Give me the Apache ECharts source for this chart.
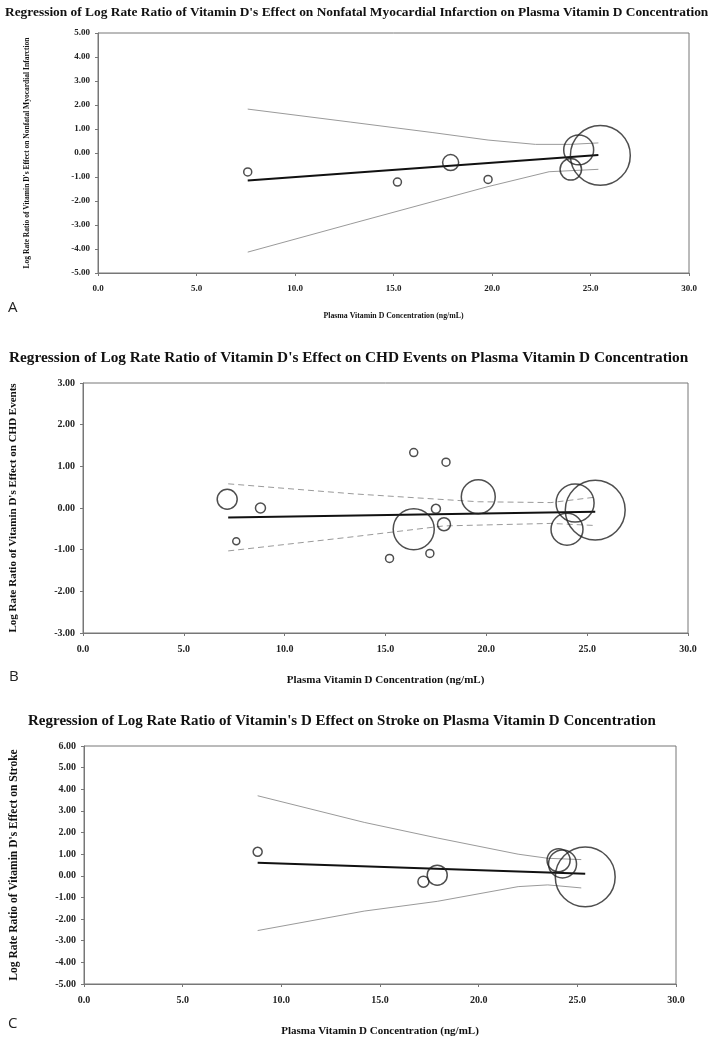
<!DOCTYPE html>
<html>
<head>
<meta charset="utf-8">
<script src="https://cdn.jsdelivr.net/npm/echarts@6/dist/echarts.min.js"></script>
<style>
  html, body { margin: 0; padding: 0; background: #fff; }
  #chart { width: 713px; height: 1038px; }
</style>
</head>
<body>
<div id="chart"></div>
<script>
// panel A - nonfatal MI
const aX = [7.6, 15.2, 17.9, 19.8, 24.0, 24.4, 25.5]
const aY = [-0.79, -1.21, -0.40, -1.10, -0.68, 0.13, -0.10]
const aW = [1, 1, 4, 1, 7.2, 14, 56]
const aFit = [[7.6, -1.15], [25.4, -0.08]]
const aUpper = [[7.6, 1.83], [12.8, 1.29], [17.0, 0.85], [19.8, 0.54], [22.2, 0.36], [24.0, 0.36], [25.4, 0.42]]
const aLower = [[7.6, -4.13], [12.8, -2.96], [19.8, -1.40], [22.9, -0.78], [25.4, -0.68]]

// panel B - CHD events
const bX = [7.15, 8.8, 7.6, 16.4, 18.0, 19.6, 17.5, 17.9, 16.4, 17.2, 15.2, 24.4, 24.0, 25.4]
const bY = [0.21, 0.0, -0.80, 1.33, 1.10, 0.27, -0.02, -0.39, -0.51, -1.09, -1.21, 0.12, -0.51, -0.05]
const bW = [6.25, 1.56, 0.77, 1, 1, 18, 1.27, 2.64, 26.3, 1, 1, 22.6, 16, 56]
const bFit = [[7.2, -0.23], [25.4, -0.09]]
const bUpper = [[7.2, 0.58], [13.4, 0.34], [19.6, 0.15], [23.2, 0.13], [25.4, 0.26]]
const bLower = [[7.2, -1.03], [13.4, -0.69], [17.9, -0.43], [23.2, -0.37], [25.4, -0.42]]

// panel C - stroke
const cX = [8.8, 17.2, 17.9, 24.05, 24.25, 25.4]
const cY = [1.11, -0.27, 0.03, 0.72, 0.55, -0.05]
const cW = [1.27, 1.9, 6.25, 8.3, 12.25, 56]
const cFit = [[8.8, 0.6], [25.4, 0.1]]
const cUpper = [[8.8, 3.7], [14.2, 2.47], [17.9, 1.75], [22.0, 1.0], [23.5, 0.81], [25.2, 0.75]]
const cLower = [[8.8, -2.53], [14.2, -1.63], [17.9, -1.18], [22.0, -0.5], [23.5, -0.42], [25.2, -0.56]]

const xTicks = [0, 5, 10, 15, 20, 25, 30]

const serif = 'Liberation Serif'
const zip = (xs, ys, ws) => xs.map((x, i) => [x, ys[i], ws[i]])

function xAxisOf(idx, fs, nameFs, gap) {
  return {
    gridIndex: idx,
    type: 'value',
    min: xTicks[0],
    max: xTicks[xTicks.length - 1],
    interval: 5,
    name: 'Plasma Vitamin D Concentration (ng/mL)',
    nameLocation: 'middle',
    nameGap: gap,
    nameTextStyle: { fontFamily: serif, fontWeight: 'bold', fontSize: nameFs, color: '#111' },
    axisLine: { onZero: false, lineStyle: { color: '#777', width: 1 } },
    axisTick: { show: true, length: 3, lineStyle: { color: '#777' } },
    splitLine: { show: false },
    axisLabel: {
      fontFamily: serif, fontWeight: 'bold', fontSize: fs, color: '#222', margin: 11,
      formatter: v => v.toFixed(1)
    }
  }
}

function yAxisOf(idx, min, max, name, fs, nameFs, gap) {
  return {
    gridIndex: idx,
    type: 'value',
    min: min,
    max: max,
    interval: 1,
    name: name,
    nameLocation: 'middle',
    nameGap: gap,
    nameTextStyle: { fontFamily: serif, fontWeight: 'bold', fontSize: nameFs, color: '#111' },
    axisLine: { show: true, onZero: false, lineStyle: { color: '#777', width: 1 } },
    axisTick: { show: true, length: 3, lineStyle: { color: '#777' } },
    splitLine: { show: false },
    axisLabel: {
      fontFamily: serif, fontWeight: 'bold', fontSize: fs, color: '#222', margin: 8,
      formatter: v => v.toFixed(2)
    }
  }
}

function bubbles(idx, data) {
  return {
    type: 'scatter',
    xAxisIndex: idx,
    yAxisIndex: idx,
    data: data,
    symbol: 'circle',
    symbolSize: d => 8 * Math.sqrt(d[2]),
    itemStyle: { color: 'rgba(0,0,0,0)', borderColor: '#222', borderWidth: 1.5 },
    z: 5,
    silent: true
  }
}

function line(idx, data, color, width, type) {
  return {
    type: 'line',
    xAxisIndex: idx,
    yAxisIndex: idx,
    data: data,
    symbol: 'none',
    lineStyle: { color: color, width: width, type: type || 'solid' },
    z: 3,
    silent: true
  }
}

const chart = echarts.init(document.getElementById('chart'))
chart.setOption({
  animation: false,
  backgroundColor: '#fff',
  title: [
    {
      text: "Regression of Log Rate Ratio of Vitamin D's Effect on Nonfatal Myocardial Infarction on Plasma Vitamin D Concentration",
      left: 0, top: 1,
      textStyle: { fontFamily: serif, fontWeight: 'bold', fontSize: 13.4, color: '#111' }
    },
    {
      text: "Regression of Log Rate Ratio of Vitamin D's Effect on CHD Events on Plasma Vitamin D Concentration",
      left: 4, top: 346,
      textStyle: { fontFamily: serif, fontWeight: 'bold', fontSize: 15.3, color: '#111' }
    },
    {
      text: "Regression of Log Rate Ratio of Vitamin's D Effect on Stroke on Plasma Vitamin D Concentration",
      left: 23, top: 709,
      textStyle: { fontFamily: serif, fontWeight: 'bold', fontSize: 15, color: '#111' }
    }
  ],
  grid: [
    { left: 98, top: 33, width: 591, height: 240, show: true, borderColor: '#777', borderWidth: 1 },
    { left: 76, top: 383, width: 612, height: 250, show: true, borderColor: '#777', borderWidth: 1 },
    { left: 76, top: 746, width: 600, height: 244, show: true, borderColor: '#777', borderWidth: 1 }
  ],
  xAxis: [
    xAxisOf(0, 9, 7.8, 39),
    xAxisOf(1, 10, 11, 42),
    xAxisOf(2, 10, 11, 42)
  ],
  yAxis: [
    yAxisOf(0, -5, 5, "Log Rate Ratio of Vitamin D's Effect on Nonfatal Myocardial Infarction", 9, 7.5, 67),
    yAxisOf(1, -3, 3, "Log Rate Ratio of Vitamin D's Effect on CHD Events", 10, 11, 64),
    yAxisOf(2, -5, 6, "Log Rate Ratio of Vitamin D's Effect on Stroke", 10, 11.5, 64)
  ],
  graphic: [
    { type: 'text', left: 8, top: 300, style: { text: 'A', fontFamily: 'Open Sans', fontSize: 15, fill: '#222' } },
    { type: 'text', left: 9, top: 669, style: { text: 'B', fontFamily: 'Open Sans', fontSize: 15, fill: '#222' } },
    { type: 'text', left: 8, top: 1016, style: { text: 'C', fontFamily: 'Open Sans', fontSize: 15, fill: '#222' } }
  ],
  series: [
    line(0, aUpper, '#9a9a9a', 1),
    line(0, aLower, '#9a9a9a', 1),
    line(0, aFit, '#111', 2),
    bubbles(0, zip(aX, aY, aW)),

    line(1, bUpper, '#9a9a9a', 1, [6, 4]),
    line(1, bLower, '#9a9a9a', 1, [6, 4]),
    line(1, bFit, '#111', 2),
    bubbles(1, zip(bX, bY, bW)),

    line(2, cUpper, '#9a9a9a', 1),
    line(2, cLower, '#9a9a9a', 1),
    line(2, cFit, '#111', 2),
    bubbles(2, zip(cX, cY, cW))
  ]
})
</script>
</body>
</html>
